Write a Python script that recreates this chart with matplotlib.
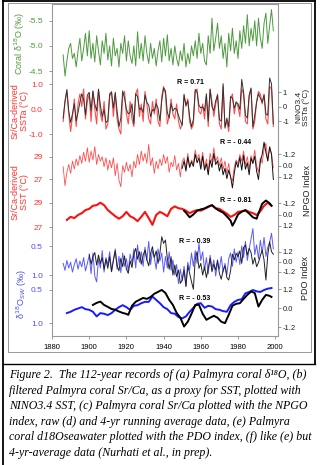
import numpy as np
import matplotlib.pyplot as plt
from matplotlib.lines import Line2D
from matplotlib.patches import Rectangle

plt.rcParams['font.family'] = ['Liberation Sans', 'DejaVu Sans']

# ---------------- data ----------------
yrs = np.arange(1886, 2000)

# (a) coral d18O, permil
coral_d18o = [-4.82, -4.40, -4.70, -4.95,
    -5.05, -4.75, -4.85, -4.58, -4.90, -5.15, -4.70, -4.95, -5.25, -4.80,
    -5.30, -4.75, -5.05, -4.68, -5.20, -4.90, -4.62, -5.10, -4.85, -5.25,
    -4.72, -5.00, -4.60, -5.15, -4.80, -4.95, -4.58, -5.05, -4.85, -5.20,
    -4.70, -5.10, -4.80, -4.65, -5.00, -4.60, -5.28, -4.75, -5.05, -4.70,
    -5.20, -4.85, -4.65, -5.05, -4.75, -4.95, -4.60, -4.90, -5.10, -4.68,
    -5.15, -4.80, -5.22, -4.70, -4.95, -4.62, -5.00, -4.75, -4.60, -4.90,
    -4.70, -5.05, -4.58, -4.85, -4.65, -5.00, -4.80, -5.10, -4.75, -5.25,
    -4.85, -5.05, -4.70, -4.62, -5.20, -4.85, -5.55, -4.90, -5.15, -5.45,
    -4.95, -5.20, -4.75, -5.05, -4.58, -5.25, -4.90, -5.35, -4.85, -5.10,
    -4.75, -5.30, -4.95, -5.40, -5.05, -5.62, -5.00, -5.35, -5.10, -5.50,
    -5.00, -5.55, -5.15, -4.95, -5.45, -5.65, -5.05, -5.40, -5.72, -5.30]

# (b) filtered Sr/Ca SSTa and NINO3.4 SSTa, deg C
srca_ssta = [-0.5, 0.3, 0.7, -0.2,
    -0.9, -0.3, 0.4, -0.7, 0.2, 0.6, 0.1, 0.8, -0.4, 0.3,
    0.6, -0.5, 0.7, 0.0, -0.6, 0.8, -0.2, -0.5, 0.3, -0.8,
    -0.6, 0.5, 0.7, -0.3, 0.6, -0.4, -0.8, -1.0, 0.5, 0.7,
    -0.2, -0.6, 0.3, -0.4, -0.7, 0.6, 0.8, -0.3, 0.2, -0.5,
    0.7, 0.2, -0.4, -0.6, 0.3, -0.2, 0.4, -0.5, -0.7, 0.5,
    0.9, 0.6, -0.6, -0.3, 0.4, -0.2, -0.4, 0.2, -0.5, -0.8,
    -0.6, 0.6, 0.1, 0.4, -0.5, -0.8, -0.6, 0.7, 0.8, -0.1,
    -0.2, 0.2, -0.4, 0.5, -0.7, 0.8, 0.3, -0.3, 0.2, 0.6,
    -0.6, -0.8, 0.9, -0.7, -0.5, -0.9, 0.4, 0.6, -0.2, 0.3,
    0.1, -0.3, 0.8, 0.6, -0.5, -0.6, 0.5, 0.8, -0.8, -0.5,
    0.3, 0.7, 0.6, 0.2, 0.6, -0.4, -0.6, 0.9, 0.8, -0.7]
nino34 = [-0.8, 0.4, 1.2, -0.3,
    -1.1, -0.5, 0.2, -1.0, -0.4, 0.3, 0.9, 0.5, -0.6, 0.8,
    1.0, -0.3, 1.1, 0.2, -0.3, 1.2, 0.1, -0.7, -0.2, -1.1,
    -1.0, 0.9, 1.0, -0.1, 1.0, -0.3, -1.4, -0.8, 1.1, 0.6,
    -0.2, -0.5, -0.4, 0.2, -1.2, 0.9, 0.7, -0.2, -0.1, -0.4,
    0.8, 0.3, 0.1, -0.7, -0.2, -0.3, 0.2, -0.1, -1.0, 0.4,
    1.3, 1.1, -0.4, -0.8, 0.2, -0.3, -0.1, -0.2, -0.6, -1.0,
    -1.3, 0.8, 0.1, 0.4, -0.7, -1.4, -0.9, 1.2, 1.0, 0.1,
    -0.1, 0.0, -0.3, 0.9, -1.0, 1.2, 0.0, -0.3, 0.4, 0.8,
    -0.9, -1.0, 1.6, -1.5, -0.8, -1.4, 0.7, 0.6, -0.1, 0.3,
    0.2, -0.2, 1.9, 1.0, -0.6, -0.8, 0.8, 1.3, -1.4, -0.6,
    0.3, 0.9, 0.6, 0.3, 0.8, -0.5, -0.6, 2.0, 1.6, -1.2]

# (c) raw Sr/Ca SST (deg C) and NPGO index
srca_sst = [28.1, 26.4, 27.6, 28.3,
    27.5, 28.6, 27.9, 28.8, 28.2, 29.1, 28.4, 29.4, 28.6, 29.8,
    28.5, 29.5, 28.7, 29.9, 28.3, 29.2, 28.6, 29.0, 28.1, 28.9,
    27.8, 28.7, 28.0, 28.9, 27.3, 28.4, 26.9, 26.3, 28.2, 27.6,
    28.5, 27.7, 28.3, 27.2, 28.6, 28.0, 29.2, 28.3, 29.5, 28.6,
    29.3, 28.4, 30.1, 28.2, 28.9, 27.5, 28.6, 27.9, 28.8, 28.2,
    29.2, 28.4, 29.0, 27.6, 28.5, 28.1, 29.1, 27.8, 28.4, 27.2,
    28.6, 28.9, 27.9, 29.3, 28.1, 28.7, 28.4, 29.6, 28.8, 29.2,
    28.3, 29.4, 28.0, 28.8, 27.7, 29.3, 28.5, 29.8, 28.6, 29.0,
    28.2, 28.9, 27.9, 28.6, 27.5, 28.4, 27.2, 26.8, 28.1, 28.7,
    28.4, 29.2, 28.6, 29.5, 28.3, 29.0, 27.9, 29.1, 28.5, 29.6,
    28.2, 27.6, 28.9, 28.4, 29.7, 30.2, 28.6, 29.8, 29.3, 28.0]
npgo_yrs = np.arange(1950, 2000)
npgo = [0.3, -0.5, 0.6, -0.9, 0.2, -0.4, 0.1, -1.2, -0.3, -0.8,
    0.4, -1.0, 0.5, -0.2, 1.0, -0.6, 0.2, -1.3, -0.1, -0.5,
    0.6, -0.2, 1.0, 0.3, 1.4, 0.5, 1.2, 2.4, 0.8, -0.4,
    0.2, -0.9, 0.5, -1.1, 0.4, -0.3, 1.0, -0.8, -0.2, -1.0,
    0.6, 1.5, -0.4, -1.2, -2.5, -1.4, -0.5, -2.0, -1.2, 1.5]

# (d) 4-yr running averages
avg_yrs = np.arange(1888, 1999, 2)
srca_sst_4yr = [27.6, 27.85, 27.75, 28.0, 28.15, 28.4, 28.5, 28.75, 28.8, 29.0,
    28.8, 28.4, 28.15, 27.9, 27.7, 27.9, 28.25, 27.9, 27.75, 27.5,
    27.85, 28.25, 27.75, 27.2, 28.0, 28.25, 28.1, 27.9, 28.5, 28.7,
    28.55, 28.5, 28.35, 28.15, 28.3, 28.4, 28.35, 28.5, 28.65, 28.8,
    28.55, 28.5, 28.3, 28.1, 27.85, 28.0, 28.25, 28.3, 28.4, 28.25,
    28.15, 28.0, 28.3, 28.75, 29.0, 28.75]
npgo_4yr_yrs = [1951, 1952, 1954, 1956, 1958, 1960, 1962, 1964, 1966, 1968,
    1970, 1972, 1974, 1976, 1977, 1978, 1980, 1982, 1984, 1986,
    1988, 1990, 1991, 1993, 1995, 1997, 1998]
npgo_4yr = [-0.4, -0.2, 0.3, 0.0, -0.4, -0.55, -0.65, -0.85, -1.0, -0.65,
    -0.4, -0.2, 0.2, 0.65, 1.2, 0.85, 0.0, -0.3, -0.45, -0.1,
    0.3, 0.45, -0.1, -1.15, -1.5, -1.2, -0.95]

# (e) raw d18O seawater (permil) and PDO index
d18osw = [0.80, 0.92, 0.75, 0.88,
    0.78, 0.95, 0.82, 0.72, 0.90, 0.76, 0.86, 0.70, 0.93, 0.80,
    0.66, 0.98, 0.62, 1.02, 1.12, 0.72, 0.88, 0.58, 0.95, 0.70,
    0.82, 0.60, 0.94, 0.75, 0.55, 0.90, 0.68, 0.96, 0.62, 0.85,
    0.72, 0.93, 0.64, 0.80, 0.55, 0.88, 0.48, 0.78, 0.60, 0.85,
    0.52, 0.75, 0.42, 0.82, 0.58, 0.70, 0.90, 0.55, 0.76, 0.62,
    0.95, 0.68, 0.88, 0.60, 0.92, 0.74, 1.00, 0.82, 1.15, 0.90,
    1.10, 0.85, 1.18, 0.78, 0.92, 0.62, 0.85, 0.58, 0.80, 0.45,
    0.75, 0.60, 0.92, 0.70, 0.98, 0.66, 0.88, 0.74, 1.02, 0.78,
    0.90, 0.68, 0.95, 0.80, 1.00, 0.72, 0.62, 0.85, 0.55, 0.78,
    0.60, 0.82, 0.50, 0.70, 0.42, 0.75, 0.55, 0.38, 0.20, 0.65,
    0.48, 0.72, 0.40, 0.62, 0.35, 0.68, 0.52, 0.44, 0.28, 0.55]
pdo_yrs = np.arange(1900, 2000)
pdo = [0.9, -0.3, 0.6, 1.1, -0.4, 0.8, -0.2, 0.5, -0.9, 0.3,
    -0.8, 0.6, -1.2, 0.2, 1.3, -0.5, -1.1, 0.4, -0.6, 0.7,
    -0.9, -1.4, 0.1, -0.7, 0.9, 1.6, 0.3, 1.2, -0.3, 0.8,
    1.4, 0.2, -0.5, 1.0, 1.8, 0.5, 1.3, -0.2, 1.0, 3.0,
    2.2, 2.6, 0.4, -0.9, 0.6, -1.6, -0.4, -1.8, -1.0, -2.6,
    -2.2, -1.0, -3.0, -0.5, -1.4, -2.4, -3.3, 0.3, 1.2, -0.8,
    -0.2, -1.6, -0.6, -1.9, -0.8, 0.4, -1.2, -0.3, -1.0, 0.2,
    -1.4, -2.1, -1.0, -0.5, -1.9, -2.2, -1.1, 0.9, 0.2, 1.0,
    0.6, 1.3, -0.2, 1.7, 2.0, 0.8, 1.6, 1.1, -0.3, 0.5,
    -0.6, -0.1, 0.7, 1.4, 0.2, -2.2, 0.8, 2.4, 1.2, 0.9]

# (f) 4-yr averages
d18osw_4yr = [0.85, 0.83, 0.80, 0.78, 0.76, 0.79, 0.80, 0.83, 0.90, 0.85,
    0.86, 0.88, 0.85, 0.80, 0.76, 0.73, 0.76, 0.80, 0.74, 0.73,
    0.70, 0.68, 0.68, 0.60, 0.65, 0.70, 0.76, 0.79, 0.85, 0.86,
    0.91, 0.93, 0.90, 0.83, 0.77, 0.71, 0.70, 0.77, 0.74, 0.75,
    0.79, 0.80, 0.82, 0.83, 0.73, 0.68, 0.65, 0.64, 0.55, 0.53,
    0.50, 0.52, 0.53, 0.50, 0.48, 0.47]
pdo_4yr_yrs = [1902, 1904, 1906, 1908, 1910, 1912, 1914, 1916, 1918, 1920,
    1921, 1923, 1925, 1927, 1929, 1931, 1933, 1935, 1937, 1939,
    1941, 1943, 1945, 1947, 1949, 1951, 1953, 1955, 1957, 1959,
    1961, 1963, 1965, 1967, 1969, 1971, 1973, 1975, 1977, 1979,
    1981, 1983, 1985, 1987, 1989, 1991, 1993, 1995, 1997, 1998]
pdo_4yr = [0.2, 0.33, 0.41, 0.2, 0.08, -0.05, -0.1, -0.21, -0.3, -0.36,
    -0.42, 0.15, 0.4, 0.52, 0.64, 0.58, 0.7, 0.9, 1.02, 1.14,
    0.95, 0.52, 0.2, -0.3, -0.6, -1.15, -0.85, -0.35, 0.2, 0.21,
    -0.35, -0.73, -0.6, -0.48, -0.6, -0.85, -0.94, -0.42, 0.15, 0.27,
    0.31, 0.58, 0.83, 1.04, 0.95, 0.1, 0.52, 0.83, 0.77, 0.7]

# ---------------- layout helpers ----------------
W, H = 324, 465
GREEN, RED, BLUE = '#4e9a3e', '#ff3030', '#5050f0'


def fx(x):
    return x / W


def fy(y):
    return 1 - y / H


fig = plt.figure(figsize=(W / 100, H / 100), dpi=100)
L, R, T, B = 52, 278, 4, 336
rect = [fx(L), fy(B), (R - L) / W, (B - T) / H]
ax = fig.add_axes(rect)
ax.set_xlim(1880, 2001.5)
ax.set_ylim(0, 1)
ax.set_xticks(range(1880, 2001, 20))
ax.set_yticks([])
ax.tick_params(axis='x', labelsize=5.5, length=2.5, width=0.6, color='#888', pad=3)
for s in ax.spines.values():
    s.set_color('#999')
    s.set_linewidth(0.8)


def lim(p1, v1, p2, v2):
    k = (v2 - v1) / (p2 - p1)
    return v1 + (B - p1) * k, v1 + (T - p1) * k


def panel(left, right):
    a = fig.add_axes(rect)
    a.patch.set_visible(False)
    a.set_xlim(1880, 2001.5)
    a.set_xticks([])
    for s in a.spines.values():
        s.set_visible(False)
    p1, v1, p2, v2, ticks, labels, color = left
    a.set_ylim(*lim(p1, v1, p2, v2))
    a.set_yticks(ticks)
    a.set_yticklabels(labels)
    a.tick_params(axis='y', labelsize=6, labelcolor=color, color='#888',
                  length=2, width=0.6, pad=4.5)
    t = None
    if right is not None:
        t = a.twinx()
        for s in t.spines.values():
            s.set_visible(False)
        p1, v1, p2, v2, ticks, labels = right
        t.set_ylim(*lim(p1, v1, p2, v2))
        t.set_yticks(ticks)
        t.set_yticklabels(labels)
        t.tick_params(axis='y', labelsize=5.5, labelcolor='#222', color='#888',
                      length=2, width=0.6, pad=1.5)
    return a, t


# (a)
a, _ = panel((20.7, -5.5, 71, -4.5, [-5.5, -5.0, -4.5], ['-5.5', '-5.0', '-4.5'], GREEN), None)
a.plot(yrs, coral_d18o, color=GREEN, lw=0.7)

# (b)
a, t = panel((84, 1.0, 134, -1.0, [1.0, 0.0, -1.0], ['1.0', '0.0', '-1.0'], RED),
             (92.3, 1, 121, -1, [1, 0, -1], ['1', '0', '-1']))
a.plot(yrs, srca_ssta, color='#ff4d4d', lw=0.8)
t.plot(yrs, nino34, color='#333333', lw=0.7)

# (c)
a, t = panel((156.7, 29, 179, 27, [29, 27], ['29', '27'], RED),
             (154.3, -1.2, 176.7, 1.2, [-1.2, 0.0, 1.2], ['-1.2', '0.0', '1.2']))
a.plot(yrs, srca_sst, color='#ff4d4d', lw=0.6)
t.plot(npgo_yrs, npgo, color='#111111', lw=0.7)

# (d)
a, t = panel((202.7, 29, 227.3, 27, [29, 27], ['29', '27'], RED),
             (203.3, -1.2, 225.7, 1.2, [-1.2, 0.0, 1.2], ['-1.2', '0.0', '1.2']))
a.plot(avg_yrs, srca_sst_4yr, color='#ff1010', lw=1.5)
t.plot(npgo_4yr_yrs, npgo_4yr, color='black', lw=1.4)

# (e)
a, t = panel((246, 0.5, 275, 1.0, [0.5, 1.0], ['0.5', '1.0'], BLUE),
             (251.7, 1.2, 271.7, -1.2, [1.2, 0.0, -1.2], ['1.2', '0.0', '-1.2']))
a.plot(yrs, d18osw, color='#5a5aff', lw=0.7)
t.plot(pdo_yrs, pdo, color='#222222', lw=0.7)

# (f)
a, t = panel((290, 0.5, 323, 1.0, [0.5, 1.0], ['0.5', '1.0'], BLUE),
             (289, 1.2, 327.3, -1.2, [1.2, 0.0, -1.2], ['1.2', '0.0', '-1.2']))
a.plot(avg_yrs, d18osw_4yr, color='#1a1aff', lw=1.4)
t.plot(pdo_4yr_yrs, pdo_4yr, color='black', lw=1.4)

# R values
for x, y, s in [(190, 82, 'R = 0.71'), (235, 142, 'R = - 0.44'), (236, 200, 'R = - 0.81'),
                (195, 241, 'R = - 0.39'), (195, 298, 'R = - 0.53')]:
    fig.text(fx(x), fy(y), s, fontsize=5, fontweight='bold', ha='center', va='center')

# axis titles
lab = dict(rotation=90, ha='center', va='center', fontsize=6.5, linespacing=1.0,
           multialignment='center')
fig.text(fx(20), fy(43), 'Coral δ$^{18}$O (‰)', color=GREEN, **lab)
fig.text(fx(20), fy(111), 'Sr/Ca-derived\nSSTa (°C)', color=RED, **lab)
fig.text(fx(20), fy(192), 'Sr/Ca-derived\nSST (°C)', color=RED, **lab)
fig.text(fx(22), fy(294), 'δ$^{18}$O$_{SW}$ (‰)', color=BLUE, **lab)
fig.text(fx(302.5), fy(107), 'NINO3.4\nSSTa (°C)', color='#222',
         **{**lab, 'fontsize': 6})
fig.text(fx(307), fy(190), 'NPGO Index', color='#222', **lab)
fig.text(fx(305), fy(278), 'PDO Index', color='#222', **lab)

# page frame lines
def hline(y, x0, x1, **kw):
    fig.add_artist(Line2D([fx(x0), fx(x1)], [fy(y), fy(y)], **kw))


def vline(x, y0, y1, **kw):
    fig.add_artist(Line2D([fx(x), fx(x)], [fy(y0), fy(y1)], **kw))


fig.add_artist(Rectangle((fx(8), fy(352)), fx(311 - 8), (352 - 3) / H, fill=False,
                         edgecolor='#888', lw=0.6))
vline(2.5, 0, 465, color='black', lw=1.3)
vline(314.5, 0, 364, color='black', lw=1.3)
hline(0.8, 2.5, 314.5, color='black', lw=1.3)
hline(364, 2.5, 314.5, color='black', lw=1.0)

caption = ['Figure 2.  The 112-year records of (a) Palmyra coral δ¹⁸O, (b)',
           'filtered Palmyra coral Sr/Ca, as a proxy for SST, plotted with',
           'NINO3.4 SST, (c) Palmyra coral Sr/Ca plotted with the NPGO',
           'index, raw (d) and 4-yr running average data, (e) Palmyra',
           'coral d18Oseawater plotted with the PDO index, (f) like (e) but',
           '4-yr-average data (Nurhati et al., in prep).']
for i, line in enumerate(caption):
    fig.text(fx(9), fy(375 + 15.5 * i), line, fontsize=8.6, style='italic',
             family=['Liberation Serif', 'DejaVu Serif'], ha='left', va='center')

fig.savefig('out.png', dpi=100)
